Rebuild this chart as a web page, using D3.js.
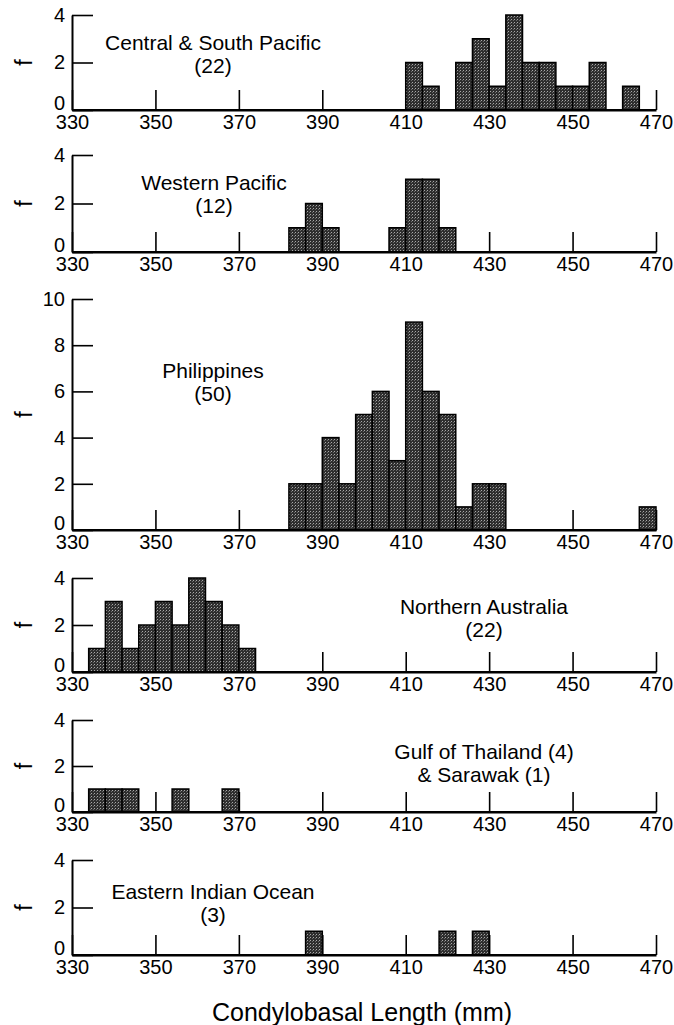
<!DOCTYPE html>
<html>
<head>
<meta charset="utf-8">
<script src="https://cdn.jsdelivr.net/npm/d3@7"></script>
<style>
body { margin: 0; background: #fff; }
text { font-family: Arial, "Liberation Sans", Helvetica, sans-serif; fill: #000; }
</style>
</head>
<body>
<script>
var width = 674;
var height = 1025;

// histogram bins are 4 mm wide, values are lower bin edges
var binWidth = 4;
var xTicks = [330, 350, 370, 390, 410, 430, 450, 470];
var smallTicks = [0, 2, 4];
var bigTicks = [0, 2, 4, 6, 8, 10];

// Central & South Pacific (22)
var cspBins = [410, 414, 418, 422, 426, 430, 434, 438, 442, 446, 450, 454, 458, 462];
var cspCounts = [2, 1, 0, 2, 3, 1, 4, 2, 2, 1, 1, 2, 0, 1];

// Western Pacific (12)
var wpBins = [382, 386, 390, 406, 410, 414, 418];
var wpCounts = [1, 2, 1, 1, 3, 3, 1];

// Philippines (50)
var phBins = [382, 386, 390, 394, 398, 402, 406, 410, 414, 418, 422, 426, 430, 466];
var phCounts = [2, 2, 4, 2, 5, 6, 3, 9, 6, 5, 1, 2, 2, 1];

// Northern Australia (22)
var naBins = [334, 338, 342, 346, 350, 354, 358, 362, 366, 370];
var naCounts = [1, 3, 1, 2, 3, 2, 4, 3, 2, 1];

// Gulf of Thailand (4) & Sarawak (1)
var gtBins = [334, 338, 342, 354, 366];
var gtCounts = [1, 1, 1, 1, 1];

// Eastern Indian Ocean (3)
var eioBins = [386, 418, 426];
var eioCounts = [1, 1, 1];

var panels = [
  { title: ["Central & South Pacific", "(22)"], bins: cspBins, counts: cspCounts, ticks: smallTicks,
    top: 15, base: 110, tx: 213, ty: 50 },
  { title: ["Western Pacific", "(12)"], bins: wpBins, counts: wpCounts, ticks: smallTicks,
    top: 155, base: 252, tx: 214, ty: 190 },
  { title: ["Philippines", "(50)"], bins: phBins, counts: phCounts, ticks: bigTicks,
    top: 299, base: 530, tx: 213, ty: 378 },
  { title: ["Northern Australia", "(22)"], bins: naBins, counts: naCounts, ticks: smallTicks,
    top: 578, base: 672, tx: 484, ty: 614 },
  { title: ["Gulf of Thailand (4)", "& Sarawak (1)"], bins: gtBins, counts: gtCounts, ticks: smallTicks,
    top: 720, base: 812, tx: 484, ty: 759 },
  { title: ["Eastern Indian Ocean", "(3)"], bins: eioBins, counts: eioCounts, ticks: smallTicks,
    top: 860, base: 955, tx: 213, ty: 899 }
];

var svg = d3.select("body")
            .append("svg")
            .attr("width", width)
            .attr("height", height);

// stippled grey fill like the printed bars
var defs = svg.append("defs");
var pat = defs.append("pattern")
              .attr("id", "stipple")
              .attr("patternUnits", "userSpaceOnUse")
              .attr("width", 3)
              .attr("height", 3);
pat.append("rect").attr("width", 3).attr("height", 3).attr("fill", "#2e2e2e");
pat.append("rect").attr("x", 1).attr("y", 1).attr("width", 1).attr("height", 1).attr("fill", "#a8a8a8");
pat.append("rect").attr("x", 0).attr("y", 2).attr("width", 1).attr("height", 1).attr("fill", "#6a6a6a");

var x = d3.scaleLinear()
          .domain([330, 470])
          .range([72, 656]);

panels.forEach(function(p) {
  var yMax = p.ticks[p.ticks.length - 1];
  var y = d3.scaleLinear()
            .domain([0, yMax])
            .range([p.base, p.top]);

  var g = svg.append("g");

  // x axis: ticks point up into the plot, drawn under the bars
  var xAxis = g.append("g")
               .attr("transform", "translate(0," + p.base + ")")
               .call(d3.axisBottom(x)
                       .tickValues(xTicks)
                       .tickSizeInner(-20)
                       .tickSizeOuter(0)
                       .tickPadding(5)
                       .tickFormat(d3.format("d")));
  xAxis.selectAll("line").attr("stroke", "#000").attr("stroke-width", 1.6);
  xAxis.select(".domain").attr("stroke", "#000").attr("stroke-width", 2);
  xAxis.selectAll("text").attr("font-size", "20px").attr("font-family", null);

  // y axis: ticks point right, labels on the left
  var yAxis = g.append("g")
               .attr("transform", "translate(" + x(330) + ",0)")
               .call(d3.axisLeft(y)
                       .tickValues(p.ticks)
                       .tickSizeInner(-21)
                       .tickSizeOuter(0)
                       .tickPadding(7)
                       .tickFormat(d3.format("d")));
  yAxis.selectAll("line").attr("stroke", "#000").attr("stroke-width", 1.6);
  yAxis.select(".domain").attr("stroke", "#000").attr("stroke-width", 2);
  yAxis.selectAll("text").attr("font-size", "20px").attr("font-family", null);
  // the 0 sits just above the 330 label
  yAxis.selectAll(".tick text")
       .filter(function(d) { return d === 0; })
       .attr("dy", "-0.05em");

  // bars
  var data = p.bins.map(function(b, i) { return { x0: b, n: p.counts[i] }; })
                   .filter(function(d) { return d.n > 0; });
  g.selectAll("rect.bar")
   .data(data)
   .enter()
   .append("rect")
   .attr("class", "bar")
   .attr("x", function(d) { return x(d.x0); })
   .attr("y", function(d) { return y(d.n); })
   .attr("width", function(d) { return x(d.x0 + binWidth) - x(d.x0); })
   .attr("height", function(d) { return y(0) - y(d.n); })
   .attr("fill", "url(#stipple)")
   .attr("stroke", "#000")
   .attr("stroke-width", 1.5);

  // baseline back on top of the bars
  g.append("line")
   .attr("x1", x(330)).attr("x2", x(470))
   .attr("y1", p.base).attr("y2", p.base)
   .attr("stroke", "#000")
   .attr("stroke-width", 2);

  // f label
  g.append("text")
   .attr("transform", "translate(24," + (p.top + p.base) / 2 + ") rotate(-90)")
   .attr("text-anchor", "middle")
   .attr("dy", "0.35em")
   .attr("font-size", "23px")
   .text("f");

  // panel title
  p.title.forEach(function(t, i) {
    g.append("text")
     .attr("x", p.tx)
     .attr("y", p.ty + i * 23)
     .attr("text-anchor", "middle")
     .attr("font-size", "21px")
     .text(t);
  });
});

svg.append("text")
   .attr("x", 362)
   .attr("y", 1021)
   .attr("text-anchor", "middle")
   .attr("font-size", "25px")
   .text("Condylobasal Length (mm)");
</script>
</body>
</html>
